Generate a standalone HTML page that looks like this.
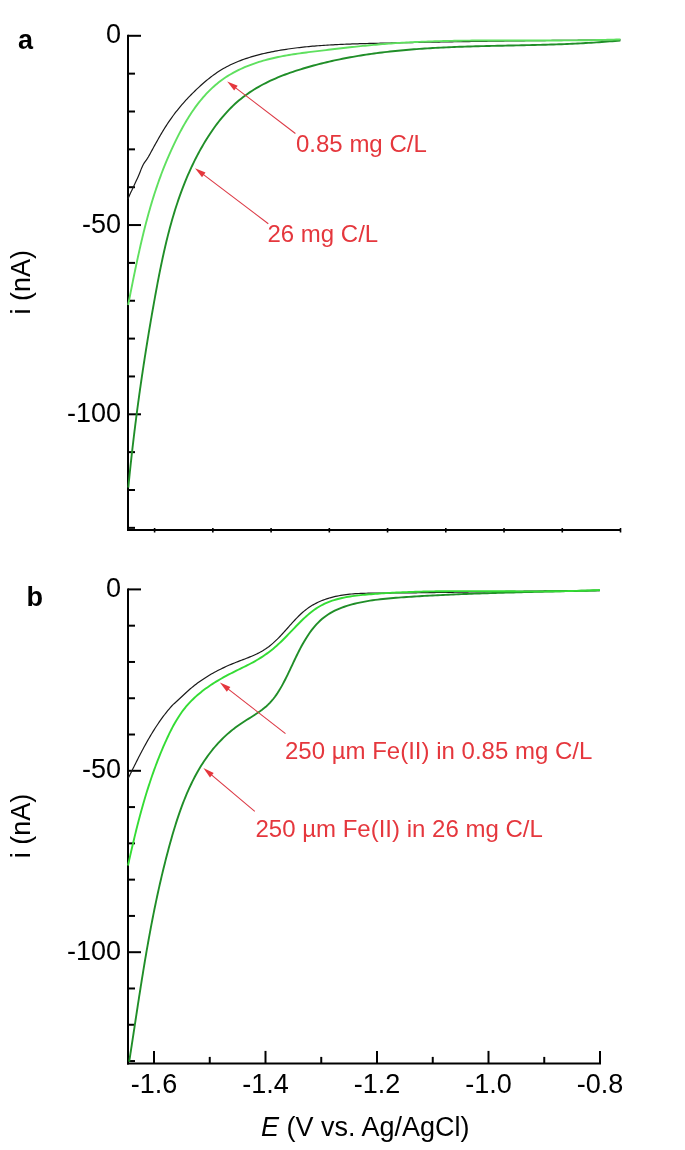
<!DOCTYPE html>
<html><head><meta charset="utf-8"><title>Figure</title><style>html,body{margin:0;padding:0;background:#fff;width:685px;height:1150px;overflow:hidden}svg{display:block}</style></head><body>
<svg width="685" height="1150" viewBox="0 0 685 1150">
<rect width="685" height="1150" fill="#fff"/>
<line x1="128" y1="34.8" x2="128" y2="531" stroke="#000" stroke-width="2"/>
<line x1="128" y1="35.80" x2="141" y2="35.80" stroke="#000" stroke-width="2"/>
<line x1="128" y1="73.65" x2="135" y2="73.65" stroke="#000" stroke-width="2"/>
<line x1="128" y1="111.50" x2="135" y2="111.50" stroke="#000" stroke-width="2"/>
<line x1="128" y1="149.35" x2="135" y2="149.35" stroke="#000" stroke-width="2"/>
<line x1="128" y1="187.20" x2="135" y2="187.20" stroke="#000" stroke-width="2"/>
<line x1="128" y1="225.05" x2="141" y2="225.05" stroke="#000" stroke-width="2"/>
<line x1="128" y1="262.90" x2="135" y2="262.90" stroke="#000" stroke-width="2"/>
<line x1="128" y1="300.75" x2="135" y2="300.75" stroke="#000" stroke-width="2"/>
<line x1="128" y1="338.60" x2="135" y2="338.60" stroke="#000" stroke-width="2"/>
<line x1="128" y1="376.45" x2="135" y2="376.45" stroke="#000" stroke-width="2"/>
<line x1="128" y1="414.30" x2="141" y2="414.30" stroke="#000" stroke-width="2"/>
<line x1="128" y1="452.15" x2="135" y2="452.15" stroke="#000" stroke-width="2"/>
<line x1="128" y1="490.00" x2="135" y2="490.00" stroke="#000" stroke-width="2"/>
<line x1="128" y1="527.85" x2="135" y2="527.85" stroke="#000" stroke-width="2"/>
<line x1="127" y1="530" x2="621" y2="530" stroke="#000" stroke-width="2"/>
<line x1="154.60" y1="528" x2="154.60" y2="532.5" stroke="#000" stroke-width="1.6"/>
<line x1="212.84" y1="528" x2="212.84" y2="532.5" stroke="#000" stroke-width="1.6"/>
<line x1="271.08" y1="528" x2="271.08" y2="532.5" stroke="#000" stroke-width="1.6"/>
<line x1="329.32" y1="528" x2="329.32" y2="532.5" stroke="#000" stroke-width="1.6"/>
<line x1="387.56" y1="528" x2="387.56" y2="532.5" stroke="#000" stroke-width="1.6"/>
<line x1="445.80" y1="528" x2="445.80" y2="532.5" stroke="#000" stroke-width="1.6"/>
<line x1="504.04" y1="528" x2="504.04" y2="532.5" stroke="#000" stroke-width="1.6"/>
<line x1="562.28" y1="528" x2="562.28" y2="532.5" stroke="#000" stroke-width="1.6"/>
<line x1="620.52" y1="528" x2="620.52" y2="532.5" stroke="#000" stroke-width="1.6"/>
<g font-family="&quot;Liberation Sans&quot;, Arial, Helvetica, sans-serif" font-size="27" text-anchor="end" fill="#000"><text x="121" y="43.4">0</text><text x="121" y="232.7">-50</text><text x="121" y="421.9">-100</text></g>
<text x="18" y="49" font-family="&quot;Liberation Sans&quot;, Arial, Helvetica, sans-serif" font-size="27" font-weight="bold">a</text>
<text transform="translate(30,314.5) rotate(-90)" font-family="&quot;Liberation Sans&quot;, Arial, Helvetica, sans-serif" font-size="27">i (nA)</text>
<path d="M127.91,199.00 L128.65,197.26 L129.41,195.53 L130.18,193.81 L130.97,192.09 L131.77,190.38 L132.57,188.67 L133.38,186.96 L134.19,185.25 L134.99,183.54 L135.79,181.82 L136.58,180.10 L137.36,178.38 L138.13,176.65 L138.87,174.91 L139.60,173.17 L140.30,171.41 L140.99,169.65 L141.69,167.90 L142.45,166.19 L143.29,164.52 L144.26,162.93 L145.34,161.40 L146.43,159.88 L147.46,158.32 L148.43,156.71 L149.36,155.08 L150.27,153.44 L151.17,151.78 L152.08,150.13 L152.98,148.47 L153.89,146.82 L154.80,145.16 L155.72,143.51 L156.64,141.86 L157.57,140.21 L158.50,138.56 L159.44,136.92 L160.39,135.28 L161.35,133.65 L162.31,132.03 L163.29,130.41 L164.28,128.80 L165.28,127.19 L166.30,125.60 L167.32,124.01 L168.37,122.44 L169.43,120.87 L170.50,119.32 L171.59,117.78 L172.70,116.25 L173.82,114.74 L174.96,113.23 L176.12,111.74 L177.29,110.26 L178.47,108.79 L179.67,107.33 L180.89,105.89 L182.12,104.45 L183.36,103.03 L184.62,101.62 L185.89,100.22 L187.17,98.83 L188.47,97.45 L189.78,96.09 L191.10,94.73 L192.44,93.39 L193.78,92.06 L195.14,90.73 L196.51,89.42 L197.89,88.12 L199.29,86.84 L200.69,85.56 L202.11,84.29 L203.54,83.04 L204.97,81.80 L206.43,80.58 L207.89,79.37 L209.37,78.19 L210.86,77.02 L212.37,75.88 L213.89,74.76 L215.43,73.66 L216.98,72.59 L218.55,71.55 L220.13,70.54 L221.74,69.55 L223.36,68.60 L224.99,67.68 L226.64,66.78 L228.31,65.92 L229.99,65.08 L231.69,64.27 L233.40,63.48 L235.12,62.72 L236.85,61.98 L238.59,61.27 L240.35,60.59 L242.12,59.92 L243.89,59.28 L245.68,58.66 L247.47,58.06 L249.28,57.48 L251.09,56.92 L252.91,56.38 L254.73,55.86 L256.56,55.36 L258.40,54.88 L260.24,54.41 L262.08,53.95 L263.93,53.52 L265.78,53.09 L267.64,52.69 L269.49,52.29 L271.35,51.91 L273.21,51.54 L275.07,51.18 L276.93,50.84 L278.80,50.51 L280.66,50.18 L282.53,49.87 L284.39,49.57 L286.26,49.29 L288.13,49.01 L290.00,48.74 L291.87,48.48 L293.74,48.23 L295.61,47.99 L297.48,47.76 L299.36,47.54 L301.23,47.33 L303.11,47.13 L304.99,46.93 L306.86,46.74 L308.74,46.56 L310.62,46.39 L312.50,46.22 L314.38,46.06 L316.26,45.91 L318.14,45.76 L320.03,45.62 L321.91,45.48 L323.79,45.36 L325.68,45.23 L327.56,45.11 L329.45,45.00 L331.33,44.89 L333.22,44.78 L335.11,44.68 L336.99,44.59 L338.88,44.50 L340.77,44.41 L342.66,44.33 L344.54,44.25 L346.43,44.17 L348.32,44.10 L350.21,44.03 L352.10,43.96 L353.99,43.90 L355.88,43.84 L357.77,43.78 L359.66,43.72 L361.55,43.67 L363.44,43.61 L365.33,43.56 L367.22,43.52 L369.11,43.47 L371.01,43.42 L372.90,43.38 L374.79,43.33 L376.68,43.29 L378.57,43.25 L380.46,43.20 L382.35,43.16 L384.24,43.12 L386.13,43.08 L388.02,43.04 L389.92,43.00 L391.81,42.96 L393.70,42.92 L395.59,42.88 L397.48,42.84 L399.37,42.80 L401.26,42.76 L403.15,42.72 L405.04,42.68 L406.93,42.64 L408.82,42.60 L410.71,42.57 L412.60,42.53 L414.49,42.49 L416.38,42.45 L418.27,42.42 L420.16,42.38 L422.05,42.34 L423.94,42.31 L425.83,42.27 L427.72,42.24 L429.61,42.20 L431.50,42.17 L433.39,42.13 L435.28,42.10 L437.17,42.07 L439.06,42.03 L440.95,42.00 L442.84,41.97 L444.73,41.93 L446.62,41.90 L448.51,41.87 L450.40,41.84 L452.29,41.80 L454.18,41.77 L456.07,41.74 L457.96,41.71 L459.85,41.68 L461.74,41.65 L463.63,41.62 L465.52,41.59 L467.41,41.56 L469.30,41.53 L471.18,41.50 L473.07,41.47 L474.96,41.44 L476.85,41.41 L478.74,41.39 L480.63,41.36 L482.52,41.33 L484.41,41.30 L486.30,41.28 L488.19,41.25 L490.08,41.22 L491.97,41.19 L493.86,41.17 L495.75,41.14 L497.64,41.12 L499.53,41.09 L501.42,41.07 L503.31,41.04 L505.19,41.02 L507.08,40.99 L508.97,40.97 L510.86,40.94 L512.75,40.92 L514.64,40.89 L516.53,40.87 L518.42,40.85 L520.31,40.82 L522.20,40.80 L524.09,40.78 L525.98,40.76 L527.87,40.73 L529.76,40.71 L531.65,40.69 L533.54,40.67 L535.43,40.65 L537.32,40.63 L539.21,40.61 L541.10,40.58 L542.99,40.56 L544.88,40.54 L546.77,40.52 L548.66,40.50 L550.55,40.48 L552.44,40.46 L554.33,40.45 L556.22,40.43 L558.11,40.41 L560.00,40.39 L561.89,40.37 L563.78,40.35 L565.67,40.33 L567.56,40.32 L569.45,40.30 L571.34,40.28 L573.23,40.26 L575.12,40.25 L577.01,40.23 L578.90,40.21 L580.79,40.20 L582.68,40.18 L584.57,40.16 L586.46,40.15 L588.35,40.13 L590.24,40.12 L592.13,40.10 L594.03,40.09 L595.92,40.07 L597.81,40.06 L599.70,40.04 L601.59,40.03 L603.48,40.01 L605.37,40.00 L607.26,39.99 L609.15,39.97 L611.05,39.96 L612.94,39.95 L614.83,39.93 L616.72,39.92 L618.61,39.91 L620.50,39.89" fill="none" stroke="#1a1a1a" stroke-width="1.2"/>
<path d="M128.28,487.63 L128.55,484.94 L128.81,482.25 L129.08,479.56 L129.36,476.87 L129.63,474.19 L129.91,471.50 L130.19,468.82 L130.48,466.14 L130.77,463.46 L131.06,460.79 L131.36,458.11 L131.65,455.44 L131.95,452.76 L132.26,450.09 L132.57,447.42 L132.88,444.75 L133.19,442.08 L133.51,439.42 L133.83,436.75 L134.15,434.09 L134.47,431.42 L134.80,428.76 L135.13,426.10 L135.47,423.44 L135.81,420.78 L136.15,418.13 L136.49,415.47 L136.84,412.81 L137.19,410.16 L137.54,407.50 L137.90,404.85 L138.26,402.20 L138.62,399.55 L138.99,396.89 L139.36,394.24 L139.73,391.59 L140.10,388.95 L140.48,386.30 L140.86,383.65 L141.25,381.00 L141.63,378.36 L142.02,375.71 L142.42,373.06 L142.81,370.42 L143.21,367.77 L143.61,365.13 L144.02,362.49 L144.43,359.84 L144.84,357.20 L145.25,354.56 L145.67,351.91 L146.09,349.27 L146.51,346.63 L146.94,343.98 L147.36,341.34 L147.80,338.70 L148.23,336.06 L148.67,333.42 L149.11,330.77 L149.55,328.13 L150.00,325.49 L150.45,322.85 L150.90,320.20 L151.36,317.56 L151.81,314.92 L152.28,312.28 L152.74,309.63 L153.21,306.99 L153.68,304.34 L154.15,301.70 L154.63,299.06 L155.10,296.41 L155.59,293.76 L156.07,291.12 L156.56,288.47 L157.06,285.83 L157.55,283.18 L158.06,280.54 L158.57,277.90 L159.08,275.26 L159.60,272.62 L160.13,269.98 L160.67,267.34 L161.21,264.70 L161.76,262.07 L162.32,259.44 L162.89,256.81 L163.47,254.18 L164.05,251.56 L164.65,248.93 L165.26,246.32 L165.87,243.70 L166.50,241.09 L167.14,238.48 L167.79,235.88 L168.46,233.28 L169.13,230.68 L169.82,228.09 L170.52,225.50 L171.24,222.92 L171.97,220.34 L172.71,217.77 L173.47,215.20 L174.25,212.64 L175.04,210.08 L175.84,207.53 L176.67,204.99 L177.51,202.45 L178.36,199.92 L179.24,197.39 L180.13,194.87 L181.04,192.36 L181.97,189.86 L182.92,187.36 L183.89,184.87 L184.87,182.39 L185.88,179.91 L186.91,177.45 L187.96,174.99 L189.03,172.54 L190.13,170.10 L191.24,167.67 L192.38,165.25 L193.54,162.83 L194.73,160.43 L195.94,158.03 L197.17,155.65 L198.43,153.27 L199.71,150.91 L201.02,148.55 L202.35,146.21 L203.71,143.87 L205.10,141.55 L206.51,139.25 L207.95,136.96 L209.42,134.68 L210.92,132.43 L212.45,130.20 L214.00,127.99 L215.59,125.80 L217.20,123.64 L218.85,121.51 L220.52,119.41 L222.23,117.34 L223.97,115.30 L225.74,113.29 L227.54,111.32 L229.38,109.38 L231.25,107.49 L233.15,105.64 L235.09,103.82 L237.07,102.05 L239.07,100.33 L241.12,98.65 L243.20,97.02 L245.31,95.44 L247.46,93.90 L249.63,92.40 L251.84,90.95 L254.08,89.54 L256.34,88.16 L258.64,86.83 L260.95,85.54 L263.30,84.28 L265.66,83.07 L268.05,81.88 L270.46,80.73 L272.89,79.62 L275.34,78.54 L277.81,77.49 L280.29,76.47 L282.80,75.48 L285.31,74.51 L287.84,73.58 L290.38,72.67 L292.93,71.79 L295.49,70.93 L298.06,70.10 L300.64,69.29 L303.23,68.50 L305.82,67.73 L308.42,66.98 L311.02,66.25 L313.62,65.53 L316.22,64.84 L318.83,64.16 L321.44,63.50 L324.05,62.86 L326.66,62.23 L329.28,61.62 L331.90,61.02 L334.52,60.44 L337.14,59.88 L339.77,59.33 L342.39,58.80 L345.02,58.28 L347.65,57.78 L350.29,57.29 L352.92,56.82 L355.56,56.36 L358.20,55.91 L360.84,55.48 L363.49,55.06 L366.13,54.66 L368.78,54.26 L371.43,53.88 L374.08,53.51 L376.73,53.16 L379.39,52.81 L382.04,52.48 L384.70,52.16 L387.36,51.85 L390.02,51.55 L392.68,51.26 L395.34,50.98 L398.01,50.72 L400.67,50.46 L403.34,50.21 L406.01,49.97 L408.68,49.74 L411.35,49.52 L414.02,49.31 L416.69,49.11 L419.37,48.91 L422.04,48.72 L424.72,48.55 L427.40,48.37 L430.07,48.21 L432.75,48.05 L435.43,47.90 L438.11,47.76 L440.80,47.62 L443.48,47.49 L446.16,47.37 L448.85,47.25 L451.53,47.13 L454.22,47.02 L456.90,46.92 L459.59,46.82 L462.27,46.73 L464.96,46.64 L467.65,46.55 L470.34,46.47 L473.02,46.39 L475.71,46.31 L478.40,46.24 L481.09,46.17 L483.78,46.10 L486.47,46.04 L489.16,45.97 L491.85,45.91 L494.54,45.85 L497.23,45.79 L499.92,45.74 L502.61,45.68 L505.30,45.62 L507.99,45.57 L510.68,45.51 L513.37,45.46 L516.05,45.40 L518.74,45.35 L521.43,45.29 L524.12,45.23 L526.81,45.17 L529.49,45.11 L532.18,45.05 L534.87,44.99 L537.55,44.92 L540.24,44.85 L542.92,44.78 L545.60,44.70 L548.29,44.62 L550.97,44.54 L553.65,44.46 L556.33,44.37 L559.01,44.28 L561.69,44.18 L564.37,44.08 L567.04,43.97 L569.72,43.86 L572.40,43.74 L575.07,43.62 L577.74,43.49 L580.41,43.35 L583.08,43.21 L585.75,43.07 L588.42,42.91 L591.09,42.75 L593.75,42.58 L596.42,42.40 L599.08,42.22 L601.74,42.03 L604.40,41.83 L607.06,41.62 L609.72,41.40 L612.37,41.18 L615.03,40.94 L617.68,40.70 L620.33,40.44" fill="none" stroke="#208e28" stroke-width="1.9"/>
<path d="M128.12,305.03 L128.55,302.89 L128.98,300.74 L129.40,298.60 L129.83,296.45 L130.25,294.30 L130.68,292.16 L131.11,290.01 L131.54,287.86 L131.97,285.72 L132.40,283.57 L132.83,281.43 L133.27,279.28 L133.70,277.14 L134.14,274.99 L134.58,272.85 L135.03,270.71 L135.47,268.56 L135.92,266.42 L136.37,264.28 L136.83,262.14 L137.29,260.00 L137.75,257.87 L138.21,255.73 L138.68,253.59 L139.16,251.46 L139.63,249.33 L140.12,247.20 L140.60,245.07 L141.10,242.94 L141.59,240.81 L142.10,238.69 L142.61,236.57 L143.12,234.44 L143.64,232.33 L144.16,230.21 L144.70,228.09 L145.23,225.98 L145.78,223.87 L146.33,221.76 L146.89,219.65 L147.46,217.55 L148.03,215.45 L148.61,213.35 L149.20,211.25 L149.80,209.16 L150.40,207.07 L151.02,204.98 L151.64,202.89 L152.27,200.81 L152.91,198.73 L153.56,196.65 L154.22,194.58 L154.88,192.51 L155.56,190.44 L156.25,188.38 L156.95,186.32 L157.65,184.26 L158.37,182.21 L159.10,180.16 L159.84,178.11 L160.59,176.07 L161.35,174.03 L162.12,171.99 L162.91,169.96 L163.70,167.93 L164.51,165.90 L165.33,163.88 L166.16,161.86 L167.00,159.84 L167.86,157.82 L168.73,155.81 L169.61,153.80 L170.50,151.79 L171.40,149.79 L172.32,147.78 L173.26,145.78 L174.20,143.79 L175.16,141.79 L176.13,139.80 L177.12,137.81 L178.12,135.83 L179.14,133.86 L180.17,131.89 L181.22,129.93 L182.28,127.98 L183.37,126.04 L184.47,124.11 L185.58,122.20 L186.72,120.29 L187.87,118.40 L189.04,116.53 L190.23,114.67 L191.45,112.83 L192.68,111.01 L193.93,109.20 L195.20,107.42 L196.50,105.65 L197.81,103.91 L199.15,102.19 L200.51,100.49 L201.90,98.82 L203.30,97.18 L204.73,95.56 L206.19,93.96 L207.67,92.40 L209.18,90.86 L210.71,89.36 L212.26,87.89 L213.85,86.45 L215.46,85.04 L217.09,83.66 L218.76,82.32 L220.45,81.02 L222.17,79.75 L223.92,78.52 L225.70,77.33 L227.50,76.17 L229.32,75.04 L231.17,73.95 L233.04,72.89 L234.94,71.87 L236.85,70.88 L238.78,69.92 L240.74,68.99 L242.71,68.09 L244.70,67.22 L246.71,66.39 L248.73,65.58 L250.77,64.80 L252.82,64.05 L254.88,63.32 L256.96,62.63 L259.04,61.96 L261.14,61.31 L263.25,60.69 L265.36,60.10 L267.48,59.53 L269.61,58.98 L271.75,58.46 L273.89,57.96 L276.03,57.48 L278.18,57.02 L280.33,56.58 L282.49,56.16 L284.65,55.76 L286.82,55.37 L288.99,55.00 L291.16,54.64 L293.33,54.30 L295.51,53.97 L297.68,53.65 L299.86,53.34 L302.04,53.04 L304.22,52.75 L306.41,52.46 L308.59,52.18 L310.77,51.91 L312.95,51.64 L315.14,51.38 L317.32,51.11 L319.50,50.85 L321.68,50.59 L323.85,50.33 L326.03,50.07 L328.20,49.81 L330.38,49.55 L332.55,49.30 L334.72,49.04 L336.89,48.79 L339.06,48.53 L341.22,48.28 L343.39,48.03 L345.56,47.79 L347.73,47.54 L349.89,47.30 L352.06,47.06 L354.22,46.83 L356.39,46.59 L358.55,46.37 L360.72,46.14 L362.88,45.92 L365.05,45.70 L367.21,45.49 L369.38,45.28 L371.54,45.08 L373.71,44.88 L375.88,44.68 L378.04,44.49 L380.21,44.31 L382.38,44.13 L384.55,43.96 L386.72,43.79 L388.89,43.63 L391.06,43.47 L393.24,43.32 L395.41,43.17 L397.58,43.03 L399.76,42.89 L401.93,42.76 L404.11,42.63 L406.29,42.51 L408.46,42.39 L410.64,42.28 L412.82,42.17 L415.00,42.07 L417.18,41.96 L419.36,41.87 L421.54,41.78 L423.72,41.69 L425.90,41.60 L428.09,41.52 L430.27,41.44 L432.45,41.37 L434.64,41.30 L436.82,41.23 L439.00,41.17 L441.19,41.11 L443.38,41.05 L445.56,41.00 L447.75,40.95 L449.93,40.90 L452.12,40.86 L454.31,40.81 L456.50,40.77 L458.68,40.74 L460.87,40.70 L463.06,40.67 L465.25,40.64 L467.44,40.62 L469.63,40.59 L471.82,40.57 L474.01,40.55 L476.19,40.53 L478.38,40.51 L480.58,40.50 L482.77,40.48 L484.96,40.47 L487.15,40.46 L489.34,40.45 L491.53,40.45 L493.72,40.44 L495.91,40.43 L498.10,40.43 L500.29,40.43 L502.48,40.43 L504.67,40.43 L506.87,40.42 L509.06,40.43 L511.25,40.43 L513.44,40.43 L515.63,40.43 L517.82,40.43 L520.01,40.43 L522.20,40.44 L524.39,40.44 L526.58,40.44 L528.77,40.45 L530.96,40.45 L533.15,40.45 L535.34,40.45 L537.53,40.46 L539.72,40.46 L541.91,40.46 L544.10,40.46 L546.29,40.46 L548.48,40.46 L550.67,40.45 L552.86,40.45 L555.04,40.45 L557.23,40.44 L559.42,40.43 L561.60,40.43 L563.79,40.42 L565.98,40.41 L568.16,40.39 L570.35,40.38 L572.53,40.36 L574.72,40.35 L576.90,40.33 L579.09,40.30 L581.27,40.28 L583.45,40.25 L585.63,40.23 L587.82,40.20 L590.00,40.16 L592.18,40.13 L594.36,40.09 L596.54,40.05 L598.72,40.01 L600.89,39.96 L603.07,39.91 L605.25,39.86 L607.43,39.80 L609.60,39.74 L611.78,39.68 L613.95,39.62 L616.13,39.55 L618.30,39.48 L620.47,39.40" fill="none" stroke="#5fe05f" stroke-width="1.9"/>
<line x1="295.4" y1="133.5" x2="234.35" y2="86.86" stroke="#dc3844" stroke-width="1.1"/><polygon points="227.2,81.4 237.70,85.77 234.18,90.38" fill="#e5373d"/>
<line x1="268.3" y1="223.7" x2="202.18" y2="173.63" stroke="#dc3844" stroke-width="1.1"/><polygon points="195,168.2 205.52,172.53 202.02,177.15" fill="#e5373d"/>
<g font-family="&quot;Liberation Sans&quot;, Arial, Helvetica, sans-serif" font-size="24" fill="#e5373d"><text x="296" y="152">0.85 mg C/L</text><text x="267.5" y="242">26 mg C/L</text></g>
<line x1="128" y1="588.4" x2="128" y2="1064.4" stroke="#000" stroke-width="2"/>
<line x1="128" y1="589.40" x2="141" y2="589.40" stroke="#000" stroke-width="2"/>
<line x1="128" y1="625.68" x2="135" y2="625.68" stroke="#000" stroke-width="2"/>
<line x1="128" y1="661.96" x2="135" y2="661.96" stroke="#000" stroke-width="2"/>
<line x1="128" y1="698.24" x2="135" y2="698.24" stroke="#000" stroke-width="2"/>
<line x1="128" y1="734.52" x2="135" y2="734.52" stroke="#000" stroke-width="2"/>
<line x1="128" y1="770.80" x2="141" y2="770.80" stroke="#000" stroke-width="2"/>
<line x1="128" y1="807.08" x2="135" y2="807.08" stroke="#000" stroke-width="2"/>
<line x1="128" y1="843.36" x2="135" y2="843.36" stroke="#000" stroke-width="2"/>
<line x1="128" y1="879.64" x2="135" y2="879.64" stroke="#000" stroke-width="2"/>
<line x1="128" y1="915.92" x2="135" y2="915.92" stroke="#000" stroke-width="2"/>
<line x1="128" y1="952.20" x2="141" y2="952.20" stroke="#000" stroke-width="2"/>
<line x1="128" y1="988.48" x2="135" y2="988.48" stroke="#000" stroke-width="2"/>
<line x1="128" y1="1024.76" x2="135" y2="1024.76" stroke="#000" stroke-width="2"/>
<line x1="128" y1="1061.04" x2="135" y2="1061.04" stroke="#000" stroke-width="2"/>
<line x1="127" y1="1063.4" x2="601" y2="1063.4" stroke="#000" stroke-width="2"/>
<line x1="154.00" y1="1050.90" x2="154.00" y2="1063.4" stroke="#000" stroke-width="2"/>
<line x1="209.75" y1="1056.90" x2="209.75" y2="1063.4" stroke="#000" stroke-width="2"/>
<line x1="265.50" y1="1050.90" x2="265.50" y2="1063.4" stroke="#000" stroke-width="2"/>
<line x1="321.25" y1="1056.90" x2="321.25" y2="1063.4" stroke="#000" stroke-width="2"/>
<line x1="377.00" y1="1050.90" x2="377.00" y2="1063.4" stroke="#000" stroke-width="2"/>
<line x1="432.75" y1="1056.90" x2="432.75" y2="1063.4" stroke="#000" stroke-width="2"/>
<line x1="488.50" y1="1050.90" x2="488.50" y2="1063.4" stroke="#000" stroke-width="2"/>
<line x1="544.25" y1="1056.90" x2="544.25" y2="1063.4" stroke="#000" stroke-width="2"/>
<line x1="600.00" y1="1050.90" x2="600.00" y2="1063.4" stroke="#000" stroke-width="2"/>
<g font-family="&quot;Liberation Sans&quot;, Arial, Helvetica, sans-serif" font-size="27" text-anchor="end" fill="#000"><text x="121" y="597.0">0</text><text x="121" y="778.4">-50</text><text x="121" y="959.8">-100</text></g>
<g font-family="&quot;Liberation Sans&quot;, Arial, Helvetica, sans-serif" font-size="27" text-anchor="middle" fill="#000"><text x="154.0" y="1092.5">-1.6</text><text x="265.5" y="1092.5">-1.4</text><text x="377.0" y="1092.5">-1.2</text><text x="488.5" y="1092.5">-1.0</text><text x="600.0" y="1092.5">-0.8</text></g>
<text x="26.5" y="606" font-family="&quot;Liberation Sans&quot;, Arial, Helvetica, sans-serif" font-size="27" font-weight="bold">b</text>
<text transform="translate(30,858.2) rotate(-90)" font-family="&quot;Liberation Sans&quot;, Arial, Helvetica, sans-serif" font-size="27">i (nA)</text>
<path d="M128.13,778.45 L128.94,776.81 L129.76,775.17 L130.57,773.53 L131.38,771.89 L132.19,770.24 L133.01,768.60 L133.83,766.95 L134.65,765.31 L135.47,763.67 L136.29,762.02 L137.12,760.38 L137.95,758.74 L138.79,757.10 L139.63,755.47 L140.48,753.84 L141.33,752.20 L142.19,750.58 L143.05,748.95 L143.93,747.33 L144.80,745.72 L145.69,744.11 L146.58,742.50 L147.49,740.90 L148.40,739.30 L149.32,737.71 L150.25,736.13 L151.19,734.55 L152.14,732.98 L153.10,731.41 L154.07,729.85 L155.06,728.30 L156.05,726.76 L157.06,725.23 L158.08,723.71 L159.12,722.19 L160.17,720.68 L161.23,719.19 L162.31,717.70 L163.40,716.22 L164.51,714.76 L165.63,713.30 L166.77,711.86 L167.92,710.43 L169.10,709.01 L170.29,707.61 L171.52,706.25 L172.79,704.93 L174.10,703.68 L175.45,702.48 L176.80,701.27 L178.15,700.05 L179.50,698.81 L180.84,697.55 L182.18,696.29 L183.52,695.03 L184.87,693.77 L186.22,692.51 L187.59,691.26 L188.96,690.03 L190.35,688.82 L191.76,687.63 L193.18,686.47 L194.61,685.32 L196.06,684.20 L197.53,683.10 L199.01,682.02 L200.50,680.96 L202.00,679.92 L203.52,678.90 L205.05,677.90 L206.60,676.92 L208.15,675.96 L209.72,675.02 L211.30,674.09 L212.89,673.19 L214.49,672.30 L216.11,671.43 L217.73,670.58 L219.36,669.74 L221.01,668.93 L222.66,668.12 L224.32,667.34 L226.00,666.57 L227.68,665.81 L229.36,665.07 L231.06,664.35 L232.77,663.64 L234.48,662.94 L236.20,662.26 L237.93,661.59 L239.66,660.92 L241.39,660.26 L243.12,659.60 L244.85,658.94 L246.57,658.28 L248.29,657.60 L250.00,656.91 L251.69,656.21 L253.38,655.48 L255.05,654.73 L256.70,653.96 L258.34,653.16 L259.95,652.32 L261.54,651.44 L263.11,650.53 L264.64,649.57 L266.15,648.56 L267.63,647.51 L269.09,646.42 L270.52,645.28 L271.92,644.11 L273.30,642.91 L274.66,641.67 L276.00,640.41 L277.33,639.12 L278.63,637.80 L279.93,636.47 L281.20,635.12 L282.47,633.76 L283.73,632.39 L284.97,631.00 L286.21,629.62 L287.45,628.23 L288.68,626.84 L289.91,625.45 L291.15,624.07 L292.39,622.69 L293.63,621.33 L294.88,619.98 L296.15,618.65 L297.43,617.33 L298.72,616.04 L300.04,614.77 L301.37,613.53 L302.73,612.31 L304.12,611.13 L305.53,609.98 L306.97,608.87 L308.45,607.80 L309.96,606.77 L311.50,605.79 L313.08,604.85 L314.70,603.96 L316.34,603.11 L318.00,602.30 L319.69,601.53 L321.39,600.81 L323.11,600.13 L324.84,599.49 L326.58,598.89 L328.33,598.33 L330.08,597.80 L331.84,597.32 L333.61,596.87 L335.38,596.45 L337.16,596.07 L338.95,595.72 L340.74,595.39 L342.54,595.10 L344.34,594.83 L346.15,594.59 L347.96,594.37 L349.78,594.18 L351.60,594.01 L353.42,593.86 L355.25,593.72 L357.08,593.61 L358.91,593.51 L360.75,593.43 L362.59,593.36 L364.43,593.30 L366.27,593.25 L368.12,593.21 L369.96,593.18 L371.81,593.16 L373.66,593.14 L375.50,593.13 L377.35,593.11 L379.20,593.10 L381.05,593.09 L382.90,593.08 L384.74,593.07 L386.59,593.06 L388.43,593.05 L390.28,593.03 L392.13,593.02 L393.97,593.00 L395.82,592.99 L397.66,592.97 L399.50,592.95 L401.35,592.94 L403.19,592.92 L405.03,592.90 L406.87,592.88 L408.72,592.86 L410.56,592.84 L412.40,592.82 L414.24,592.80 L416.08,592.78 L417.92,592.76 L419.76,592.73 L421.60,592.71 L423.44,592.69 L425.28,592.66 L427.12,592.64 L428.96,592.62 L430.80,592.59 L432.64,592.57 L434.47,592.54 L436.31,592.52 L438.15,592.49 L439.99,592.47 L441.82,592.44 L443.66,592.41 L445.50,592.39 L447.33,592.36 L449.17,592.33 L451.01,592.30 L452.84,592.28 L454.68,592.25 L456.51,592.22 L458.35,592.19 L460.19,592.16 L462.02,592.14 L463.86,592.11 L465.69,592.08 L467.53,592.05 L469.36,592.02 L471.20,591.99 L473.03,591.97 L474.87,591.94 L476.70,591.91 L478.53,591.88 L480.37,591.85 L482.20,591.82 L484.04,591.79 L485.87,591.76 L487.71,591.74 L489.54,591.71 L491.38,591.68 L493.21,591.65 L495.04,591.62 L496.88,591.60 L498.71,591.57 L500.55,591.54 L502.38,591.51 L504.22,591.49 L506.05,591.46 L507.88,591.43 L509.72,591.41 L511.55,591.38 L513.39,591.35 L515.22,591.33 L517.06,591.30 L518.89,591.28 L520.73,591.25 L522.56,591.23 L524.40,591.20 L526.23,591.18 L528.07,591.16 L529.90,591.13 L531.74,591.11 L533.58,591.09 L535.41,591.07 L537.25,591.05 L539.08,591.03 L540.92,591.01 L542.76,590.99 L544.59,590.97 L546.43,590.95 L548.27,590.93 L550.11,590.91 L551.94,590.89 L553.78,590.88 L555.62,590.86 L557.46,590.85 L559.30,590.83 L561.13,590.82 L562.97,590.80 L564.81,590.79 L566.65,590.78 L568.49,590.77 L570.33,590.76 L572.17,590.74 L574.01,590.74 L575.86,590.73 L577.70,590.72 L579.54,590.71 L581.38,590.70 L583.22,590.70 L585.07,590.69 L586.91,590.69 L588.75,590.69 L590.60,590.68 L592.44,590.68 L594.29,590.68 L596.13,590.68 L597.98,590.68 L599.82,590.68" fill="none" stroke="#1a1a1a" stroke-width="1.2"/>
<path d="M129.17,1061.76 L129.58,1059.13 L129.99,1056.51 L130.39,1053.89 L130.80,1051.27 L131.20,1048.66 L131.60,1046.04 L132.00,1043.43 L132.40,1040.82 L132.80,1038.21 L133.20,1035.61 L133.59,1033.00 L133.99,1030.40 L134.39,1027.80 L134.78,1025.20 L135.18,1022.60 L135.57,1020.01 L135.97,1017.41 L136.36,1014.82 L136.76,1012.23 L137.16,1009.64 L137.55,1007.05 L137.95,1004.47 L138.35,1001.88 L138.75,999.30 L139.15,996.72 L139.56,994.14 L139.96,991.56 L140.37,988.98 L140.77,986.40 L141.18,983.83 L141.59,981.26 L142.00,978.68 L142.42,976.11 L142.84,973.54 L143.26,970.97 L143.68,968.40 L144.10,965.84 L144.53,963.27 L144.96,960.71 L145.39,958.14 L145.83,955.58 L146.27,953.02 L146.71,950.45 L147.16,947.89 L147.61,945.33 L148.07,942.78 L148.52,940.22 L148.99,937.66 L149.45,935.10 L149.92,932.55 L150.40,929.99 L150.88,927.44 L151.36,924.88 L151.85,922.33 L152.35,919.77 L152.84,917.22 L153.35,914.67 L153.86,912.12 L154.37,909.56 L154.89,907.01 L155.42,904.46 L155.95,901.91 L156.49,899.36 L157.04,896.81 L157.59,894.26 L158.14,891.71 L158.71,889.16 L159.28,886.61 L159.85,884.06 L160.44,881.51 L161.03,878.96 L161.62,876.41 L162.23,873.86 L162.84,871.31 L163.46,868.76 L164.09,866.21 L164.72,863.66 L165.36,861.11 L166.01,858.56 L166.67,856.01 L167.34,853.46 L168.02,850.90 L168.70,848.35 L169.39,845.80 L170.09,843.25 L170.80,840.69 L171.52,838.14 L172.26,835.59 L173.00,833.05 L173.76,830.50 L174.52,827.96 L175.31,825.43 L176.10,822.90 L176.91,820.38 L177.74,817.86 L178.58,815.35 L179.44,812.85 L180.32,810.36 L181.22,807.87 L182.13,805.40 L183.07,802.94 L184.02,800.49 L185.00,798.05 L186.00,795.63 L187.02,793.22 L188.06,790.82 L189.13,788.44 L190.22,786.08 L191.33,783.73 L192.47,781.40 L193.64,779.08 L194.83,776.79 L196.06,774.51 L197.31,772.26 L198.59,770.02 L199.90,767.81 L201.24,765.62 L202.61,763.45 L204.01,761.31 L205.44,759.19 L206.91,757.09 L208.41,755.02 L209.95,752.98 L211.52,750.96 L213.12,748.97 L214.77,747.01 L216.45,745.08 L218.16,743.18 L219.92,741.31 L221.72,739.47 L223.55,737.67 L225.42,735.89 L227.34,734.15 L229.30,732.44 L231.30,730.77 L233.34,729.13 L235.43,727.53 L237.56,725.97 L239.74,724.44 L241.96,722.95 L244.21,721.49 L246.48,720.04 L248.77,718.61 L251.05,717.18 L253.33,715.74 L255.58,714.28 L257.80,712.79 L259.98,711.27 L262.11,709.71 L264.17,708.10 L266.16,706.42 L268.06,704.67 L269.86,702.85 L271.59,700.95 L273.22,698.99 L274.79,696.97 L276.28,694.90 L277.72,692.77 L279.10,690.60 L280.42,688.38 L281.71,686.14 L282.95,683.86 L284.17,681.56 L285.36,679.24 L286.53,676.90 L287.68,674.55 L288.82,672.18 L289.94,669.81 L291.07,667.42 L292.19,665.03 L293.31,662.64 L294.44,660.25 L295.58,657.86 L296.73,655.48 L297.90,653.10 L299.10,650.74 L300.32,648.38 L301.57,646.04 L302.85,643.72 L304.17,641.42 L305.54,639.15 L306.94,636.91 L308.39,634.70 L309.89,632.54 L311.44,630.43 L313.04,628.37 L314.70,626.38 L316.42,624.44 L318.19,622.58 L320.03,620.79 L321.93,619.08 L323.90,617.46 L325.94,615.94 L328.05,614.50 L330.22,613.16 L332.46,611.90 L334.75,610.72 L337.08,609.62 L339.47,608.59 L341.90,607.64 L344.36,606.75 L346.85,605.92 L349.37,605.15 L351.92,604.44 L354.48,603.78 L357.05,603.16 L359.63,602.59 L362.22,602.06 L364.80,601.56 L367.39,601.10 L369.98,600.67 L372.58,600.28 L375.17,599.91 L377.77,599.57 L380.37,599.25 L382.97,598.96 L385.58,598.69 L388.18,598.44 L390.79,598.20 L393.39,597.98 L396.00,597.78 L398.61,597.58 L401.22,597.39 L403.82,597.21 L406.43,597.04 L409.04,596.86 L411.65,596.70 L414.26,596.53 L416.87,596.37 L419.48,596.22 L422.09,596.06 L424.70,595.91 L427.31,595.77 L429.92,595.62 L432.53,595.48 L435.14,595.35 L437.75,595.22 L440.36,595.09 L442.97,594.96 L445.58,594.83 L448.20,594.71 L450.81,594.59 L453.42,594.48 L456.03,594.37 L458.64,594.26 L461.25,594.15 L463.87,594.04 L466.48,593.94 L469.09,593.84 L471.70,593.74 L474.32,593.65 L476.93,593.55 L479.54,593.46 L482.15,593.37 L484.77,593.29 L487.38,593.20 L489.99,593.12 L492.61,593.03 L495.22,592.95 L497.83,592.87 L500.45,592.80 L503.06,592.72 L505.67,592.65 L508.29,592.57 L510.90,592.50 L513.51,592.43 L516.13,592.36 L518.74,592.29 L521.36,592.23 L523.97,592.16 L526.59,592.10 L529.20,592.03 L531.81,591.97 L534.43,591.90 L537.04,591.84 L539.66,591.78 L542.27,591.72 L544.89,591.66 L547.50,591.60 L550.12,591.54 L552.73,591.47 L555.35,591.41 L557.96,591.35 L560.58,591.29 L563.19,591.23 L565.81,591.17 L568.42,591.11 L571.04,591.05 L573.65,590.99 L576.27,590.93 L578.88,590.87 L581.50,590.81 L584.11,590.74 L586.73,590.68 L589.34,590.61 L591.96,590.55 L594.57,590.48 L597.19,590.41 L599.80,590.35" fill="none" stroke="#208e28" stroke-width="1.9"/>
<path d="M127.99,865.49 L128.44,863.46 L128.90,861.44 L129.35,859.41 L129.81,857.38 L130.26,855.36 L130.72,853.33 L131.19,851.31 L131.65,849.28 L132.12,847.26 L132.59,845.24 L133.07,843.21 L133.55,841.19 L134.03,839.17 L134.52,837.15 L135.01,835.13 L135.50,833.11 L136.00,831.10 L136.50,829.08 L137.01,827.07 L137.52,825.05 L138.04,823.04 L138.56,821.03 L139.08,819.02 L139.61,817.01 L140.15,815.01 L140.69,813.00 L141.24,811.00 L141.80,809.00 L142.36,807.00 L142.92,805.00 L143.49,803.01 L144.07,801.01 L144.66,799.02 L145.25,797.03 L145.85,795.04 L146.46,793.06 L147.07,791.08 L147.69,789.10 L148.32,787.12 L148.96,785.14 L149.60,783.17 L150.25,781.20 L150.91,779.23 L151.58,777.26 L152.26,775.30 L152.94,773.34 L153.64,771.39 L154.34,769.43 L155.06,767.48 L155.78,765.53 L156.51,763.59 L157.25,761.65 L158.00,759.71 L158.76,757.78 L159.53,755.84 L160.31,753.92 L161.10,751.99 L161.90,750.07 L162.72,748.15 L163.54,746.24 L164.37,744.33 L165.22,742.42 L166.08,740.52 L166.94,738.62 L167.82,736.73 L168.72,734.84 L169.63,732.96 L170.55,731.09 L171.49,729.23 L172.46,727.39 L173.44,725.55 L174.44,723.74 L175.47,721.93 L176.53,720.15 L177.60,718.39 L178.71,716.64 L179.84,714.92 L181.01,713.23 L182.20,711.56 L183.43,709.91 L184.70,708.29 L185.99,706.71 L187.33,705.15 L188.69,703.62 L190.09,702.12 L191.53,700.65 L192.99,699.21 L194.48,697.79 L196.00,696.41 L197.55,695.04 L199.13,693.71 L200.73,692.40 L202.36,691.11 L204.01,689.85 L205.68,688.61 L207.37,687.40 L209.08,686.20 L210.81,685.04 L212.56,683.89 L214.32,682.76 L216.10,681.65 L217.89,680.57 L219.70,679.50 L221.52,678.45 L223.35,677.42 L225.19,676.41 L227.04,675.42 L228.89,674.44 L230.76,673.48 L232.62,672.54 L234.49,671.60 L236.37,670.68 L238.24,669.77 L240.11,668.85 L241.98,667.94 L243.84,667.02 L245.69,666.10 L247.54,665.17 L249.37,664.23 L251.19,663.27 L253.00,662.30 L254.79,661.30 L256.56,660.29 L258.31,659.24 L260.05,658.17 L261.77,657.08 L263.47,655.96 L265.15,654.81 L266.81,653.63 L268.46,652.43 L270.09,651.19 L271.70,649.93 L273.30,648.64 L274.88,647.31 L276.44,645.96 L277.99,644.57 L279.52,643.15 L281.03,641.71 L282.54,640.24 L284.03,638.75 L285.52,637.24 L286.99,635.72 L288.47,634.20 L289.94,632.66 L291.40,631.12 L292.87,629.58 L294.34,628.04 L295.81,626.51 L297.28,624.99 L298.77,623.48 L300.26,621.98 L301.76,620.51 L303.27,619.05 L304.79,617.63 L306.33,616.23 L307.89,614.86 L309.46,613.53 L311.05,612.24 L312.67,610.99 L314.31,609.79 L315.97,608.63 L317.66,607.53 L319.38,606.48 L321.13,605.49 L322.90,604.55 L324.71,603.68 L326.54,602.86 L328.40,602.09 L330.29,601.37 L332.20,600.70 L334.13,600.08 L336.08,599.50 L338.05,598.96 L340.04,598.46 L342.05,597.99 L344.07,597.56 L346.11,597.17 L348.16,596.80 L350.22,596.47 L352.29,596.16 L354.37,595.87 L356.46,595.61 L358.56,595.36 L360.66,595.13 L362.76,594.92 L364.87,594.73 L366.98,594.54 L369.09,594.36 L371.20,594.19 L373.31,594.02 L375.41,593.86 L377.52,593.71 L379.62,593.56 L381.72,593.42 L383.82,593.28 L385.92,593.15 L388.02,593.02 L390.11,592.90 L392.20,592.78 L394.30,592.67 L396.39,592.56 L398.48,592.46 L400.57,592.36 L402.66,592.27 L404.74,592.18 L406.83,592.10 L408.91,592.02 L411.00,591.94 L413.08,591.87 L415.16,591.80 L417.24,591.73 L419.32,591.67 L421.40,591.62 L423.48,591.56 L425.55,591.51 L427.63,591.47 L429.70,591.42 L431.78,591.38 L433.85,591.35 L435.92,591.31 L437.99,591.28 L440.07,591.26 L442.14,591.23 L444.21,591.21 L446.28,591.19 L448.35,591.17 L450.41,591.15 L452.48,591.14 L454.55,591.13 L456.62,591.12 L458.68,591.11 L460.75,591.11 L462.82,591.11 L464.88,591.10 L466.95,591.10 L469.01,591.11 L471.08,591.11 L473.14,591.11 L475.21,591.12 L477.27,591.13 L479.33,591.13 L481.40,591.14 L483.46,591.15 L485.53,591.16 L487.59,591.17 L489.66,591.18 L491.72,591.19 L493.78,591.21 L495.85,591.22 L497.91,591.23 L499.98,591.24 L502.04,591.25 L504.11,591.27 L506.17,591.28 L508.24,591.29 L510.31,591.30 L512.37,591.31 L514.44,591.32 L516.51,591.33 L518.58,591.34 L520.64,591.35 L522.71,591.35 L524.78,591.36 L526.85,591.36 L528.92,591.37 L530.99,591.37 L533.07,591.37 L535.14,591.37 L537.21,591.36 L539.29,591.36 L541.36,591.35 L543.44,591.34 L545.51,591.33 L547.59,591.32 L549.67,591.31 L551.75,591.29 L553.83,591.27 L555.91,591.25 L557.99,591.22 L560.07,591.20 L562.16,591.17 L564.24,591.13 L566.33,591.10 L568.42,591.06 L570.51,591.01 L572.60,590.97 L574.69,590.92 L576.78,590.87 L578.87,590.81 L580.97,590.75 L583.06,590.69 L585.16,590.62 L587.26,590.55 L589.36,590.47 L591.46,590.39 L593.57,590.31 L595.67,590.22 L597.78,590.13 L599.89,590.03" fill="none" stroke="#34dc34" stroke-width="1.9"/>
<line x1="285.5" y1="733.6" x2="227.01" y2="688.12" stroke="#dc3844" stroke-width="1.1"/><polygon points="219.9,682.6 230.36,687.06 226.80,691.64" fill="#e5373d"/>
<line x1="254.8" y1="811.3" x2="210.29" y2="773.89" stroke="#dc3844" stroke-width="1.1"/><polygon points="203.4,768.1 213.69,772.96 209.95,777.40" fill="#e5373d"/>
<g font-family="&quot;Liberation Sans&quot;, Arial, Helvetica, sans-serif" font-size="24" fill="#e5373d"><text x="285" y="759">250 µm Fe(II) in 0.85 mg C/L</text><text x="255.5" y="837">250 µm Fe(II) in 26 mg C/L</text></g>
<text x="261" y="1136" font-family="&quot;Liberation Sans&quot;, Arial, Helvetica, sans-serif" font-size="27"><tspan font-style="italic">E</tspan> (V vs. Ag/AgCl)</text>
</svg>
</body></html>
